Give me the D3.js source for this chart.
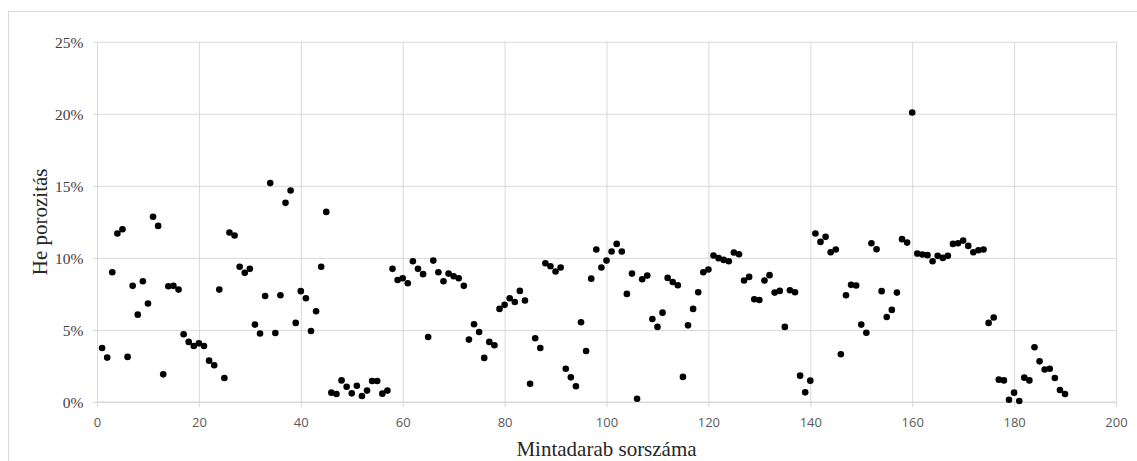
<!DOCTYPE html>
<html>
<head>
<meta charset="utf-8">
<script src="https://cdn.jsdelivr.net/npm/d3@7"></script>
<style>
  html, body { margin: 0; padding: 0; background: #fff; }
  svg { display: block; }
</style>
</head>
<body>
<svg id="chart" width="1137" height="461"></svg>
<script>
// He porosity (%) per sample number 1..190
const porosity = [
  3.75, 3.08, 9.00, 11.69, 11.99, 3.13, 8.06, 6.06, 8.38, 6.83,
  12.85, 12.22, 1.92, 8.03, 8.06, 7.80, 4.70, 4.17, 3.89, 4.07,
  3.89, 2.87, 2.55, 7.80, 1.67, 11.76, 11.55, 9.38, 8.96, 9.24,
  5.37, 4.75, 7.36, 15.19, 4.79, 7.41, 13.82, 14.68, 5.49, 7.69,
  7.20, 4.93, 6.30, 9.38, 13.19, 0.65, 0.56, 1.50, 1.06, 0.60,
  1.13, 0.42, 0.79, 1.46, 1.46, 0.58, 0.79, 9.24, 8.47, 8.59,
  8.24, 9.77, 9.24, 8.87, 4.51, 9.81, 9.00, 8.38, 8.91, 8.73,
  8.59, 8.06, 4.33, 5.39, 4.86, 3.06, 4.17, 3.94, 6.46, 6.74,
  7.20, 6.94, 7.71, 7.04, 1.27, 4.42, 3.75, 9.63, 9.42, 9.05,
  9.33, 2.31, 1.71, 1.09, 5.53, 3.54, 8.56, 10.58, 9.33, 9.81,
  10.44, 10.97, 10.44, 7.50, 8.91, 0.23, 8.52, 8.77, 5.76, 5.21,
  6.20, 8.61, 8.33, 8.10, 1.74, 5.32, 6.46, 7.62, 9.00, 9.19,
  10.16, 9.98, 9.86, 9.77, 10.37, 10.25, 8.43, 8.68, 7.13, 7.08,
  8.43, 8.80, 7.59, 7.71, 5.21, 7.75, 7.62, 1.83, 0.67, 1.48,
  11.69, 11.11, 11.46, 10.39, 10.58, 3.31, 7.41, 8.13, 8.08, 5.37,
  4.81, 11.02, 10.60, 7.69, 5.90, 6.39, 7.59, 11.30, 11.06, 20.09,
  10.30, 10.23, 10.19, 9.77, 10.14, 10.00, 10.14, 10.97, 11.02, 11.20,
  10.83, 10.39, 10.53, 10.58, 5.49, 5.86, 1.55, 1.50, 0.16, 0.65,
  0.07, 1.69, 1.50, 3.80, 2.82, 2.25, 2.31, 1.67, 0.83, 0.56
];
const sampleNo = porosity.map((_, i) => i + 1);
const xTicks = [0, 20, 40, 60, 80, 100, 120, 140, 160, 180, 200];
const yTicks = [0, 5, 10, 15, 20, 25];
const xTitle = "Mintadarab sorszáma";
const yTitle = "He porozitás";

const svg = d3.select("#chart");
const grid = "#d9d9d9";

// outer chart-area border
svg.append("rect")
  .attr("x", 8.5).attr("y", 11.5)
  .attr("width", 1140).attr("height", 470)
  .attr("fill", "none").attr("stroke", grid).attr("stroke-width", 1);

const x = d3.scaleLinear().domain([0, 200]).range([97, 1116]);
const y = d3.scaleLinear().domain([0, 25]).range([402, 41.7]);

// horizontal gridlines + y axis
const yAxis = d3.axisLeft(y).tickValues(yTicks).tickSize(4).tickFormat(d => d + "%");
const gy = svg.append("g").attr("transform", `translate(${x(0)},0)`).call(yAxis);
gy.select(".domain").remove();
gy.selectAll(".tick line").attr("stroke", grid);
gy.selectAll(".tick").append("line")
  .attr("x1", 0).attr("x2", x(200) - x(0))
  .attr("stroke", grid).attr("stroke-width", 1);
gy.selectAll(".tick text")
  .attr("x", -13.5)
  .attr("dy", "0.35em")
  .attr("fill", "#404040")
  .style("font-family", "'Liberation Serif', 'Times New Roman', serif")
  .style("font-size", "15.5px");

// vertical gridlines + x axis
const xAxis = d3.axisBottom(x).tickValues(xTicks).tickSize(5).tickFormat(d3.format("d"));
const gx = svg.append("g").attr("transform", `translate(0,${y(0)})`).call(xAxis);
gx.select(".domain").remove();
gx.selectAll(".tick line").attr("stroke", grid);
gx.selectAll(".tick").append("line")
  .attr("y1", 0).attr("y2", y(25) - y(0))
  .attr("stroke", grid).attr("stroke-width", 1);
gx.selectAll(".tick text")
  .attr("y", 16)
  .attr("dy", "0.71em")
  .attr("fill", "#595959")
  .style("font-family", "'Open Sans', sans-serif")
  .style("font-size", "13px");

// baseline
svg.append("line")
  .attr("x1", x(0)).attr("x2", x(200))
  .attr("y1", y(0)).attr("y2", y(0))
  .attr("stroke", grid).attr("stroke-width", 1);

// points
svg.append("g").selectAll("circle")
  .data(porosity)
  .join("circle")
  .attr("cx", (d, i) => x(sampleNo[i]))
  .attr("cy", d => y(d))
  .attr("r", 3.3)
  .attr("fill", "#000");

// axis titles
svg.append("text")
  .attr("x", 606.5).attr("y", 455.5)
  .attr("text-anchor", "middle")
  .attr("fill", "#262626")
  .style("font-family", "'Liberation Serif', 'Times New Roman', serif")
  .style("font-size", "21px")
  .text(xTitle);

svg.append("text")
  .attr("transform", `translate(46.5,${(y(0) + y(25)) / 2}) rotate(-90)`)
  .attr("text-anchor", "middle")
  .attr("fill", "#262626")
  .style("font-family", "'Liberation Serif', 'Times New Roman', serif")
  .style("font-size", "21px")
  .text(yTitle);
</script>
</body>
</html>
